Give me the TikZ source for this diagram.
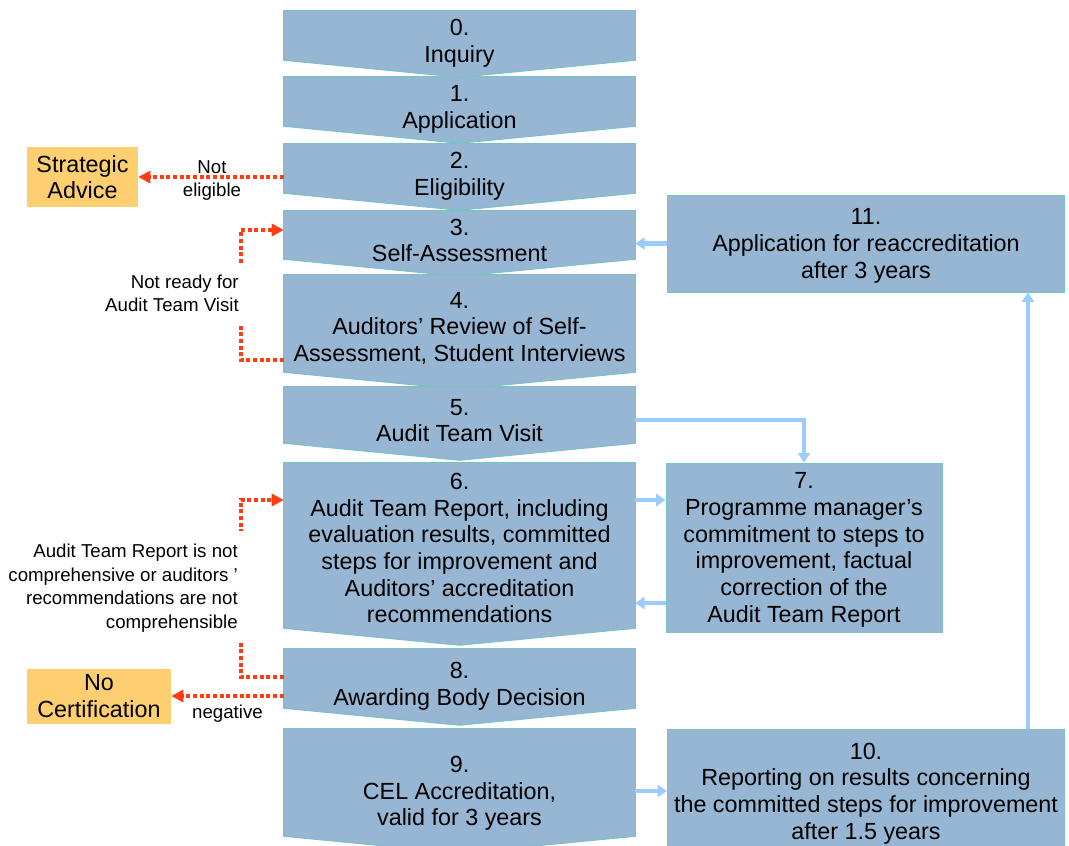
\documentclass[tikz,border=0pt]{standalone}
\usepackage{fontspec}
\setmainfont{Liberation Sans}
\usetikzlibrary{arrows.meta,backgrounds}
\definecolor{acfill}{HTML}{97B6D3}
\definecolor{acedge}{HTML}{79C2C6}
\definecolor{acorange}{HTML}{FDCF70}
\definecolor{acred}{HTML}{FF3D12}
\definecolor{acblue}{HTML}{9ACCFF}
\newcommand\bigtxt{\fontsize{17.5}{20}\selectfont}
\newcommand\smalltxt{\fontsize{14}{17.6}\selectfont}
\tikzset{
  stepbox/.style={minimum width=263.25pt, inner sep=0pt, align=center, font=\bigtxt, text depth=4.5pt},
  chevron/.style={fill=acfill, draw=acedge, line width=0.75pt},
  sidebox/.style={fill=acfill, draw=acedge, line width=0.75pt, inner sep=0pt, align=center, font=\bigtxt, text depth=0pt},
  outbox/.style={fill=acorange, inner sep=0pt, align=center, font=\bigtxt, text depth=0pt},
  note/.style={font=\smalltxt, inner sep=0pt, text depth=0pt},
  nope/.style={draw=acred, line width=3pt, dash pattern=on 3pt off 2pt, -{Triangle[length=9pt,width=9pt]}},
  flow/.style={draw=acblue, line width=3.2pt, -{Triangle[length=7pt,width=9pt]}}
}
\begin{document}
\begin{tikzpicture}[x=0.75pt, y=-0.75pt]
  \useasboundingbox (0,0) rectangle (1069,845);
  \node[stepbox, minimum height=49.5pt] (s0) at (459.5,44) {0.\\Inquiry};
  \node[stepbox, minimum height=49.5pt] (s1) at (459.5,110) {1.\\Application};
  \node[stepbox, minimum height=49.5pt] (s2) at (459.5,177) {2.\\Eligibility};
  \node[stepbox, minimum height=48.75pt] (s3) at (459.5,243.5) {3.\\Self-Assessment};
  \node[stepbox, minimum height=85.5pt, text depth=7.9pt] (s4) at (459.5,332) {4.\\Auditors’ Review of Self-\\Assessment, Student Interviews};
  \node[stepbox, minimum height=54.75pt] (s5) at (459.5,423.5) {5.\\Audit Team Visit};
  \node[stepbox, minimum height=136.5pt, text depth=9pt] (s6) at (459.5,554) {6.\\Audit Team Report, including\\evaluation results, committed\\steps for improvement and\\Auditors’ accreditation\\recommendations};
  \node[stepbox, minimum height=57pt] (s8) at (459.5,687) {8.\\Awarding Body Decision};
  \node[stepbox, minimum height=93pt, text depth=0pt] (s9) at (459.5,791) {9.\\CEL Accreditation,\\valid for 3 years};

  \node[sidebox, minimum width=297.75pt, minimum height=72.75pt] (s11) at (866,243.5) {11.\\Application for reaccreditation\\after 3 years};
  \node[sidebox, minimum width=207pt, minimum height=126.75pt] (s7) at (804,547.5) {7.\\Programme manager’s\\commitment to steps to\\improvement, factual\\correction of the\\Audit Team Report};
  \node[sidebox, minimum width=297.75pt, minimum height=93pt] (s10) at (866,791) {10.\\Reporting on results concerning\\the committed steps for improvement\\after 1.5 years};

  \node[outbox, minimum width=83.25pt, minimum height=45pt] (adv) at (82.5,177) {Strategic\\Advice};
  \node[outbox, minimum width=108pt, minimum height=41.25pt] (nocert) at (99,696) {No\\Certification};

  \begin{scope}[on background layer]
    \fill[white] (0,0) rectangle (1069,845);
    \foreach \n in {s0,s1,s2,s3,s4,s5,s6,s8,s9}
      \path[chevron] (\n.north west) -- (\n.north east) -- ([yshift=12.75pt]\n.south east)
        -- (\n.south) -- ([yshift=12.75pt]\n.south west) -- cycle;
  \end{scope}

  \draw[nope] (s2.west) -- (adv.east);
  \node[note, align=center] (notelig) at (212,178.5) {Not\\eligible};
  \draw[nope] ([yshift=-21pt]s4.west) -- ++(-43,0) |- ([yshift=10.125pt]s3.west);
  \node[note, align=right, fill=white, inner xsep=4.5pt, inner ysep=9pt, anchor=east] (notready) at (245,293.3) {Not ready for\\Audit Team Visit};
  \draw[nope] ([yshift=7.5pt]s8.west) -- ++(-43,0) |- ([yshift=40.5pt]s6.west);
  \node[note, align=right, fill=white, inner xsep=4.5pt, inner ysep=10pt, anchor=east] (notcomp) at (244,586.3) {Audit Team Report is not\\comprehensive or auditors ’\\recommendations are not\\comprehensible};
  \draw[nope] ([yshift=-6.75pt]s8.west) -- (nocert.east);
  \node[note, anchor=base] (negative) at (227.5,718) {negative};

  \draw[flow] (s11.west) -- (s3.east);
  \draw[flow] ([yshift=2.6pt]s5.east) -| (s7.north);
  \draw[flow] ([yshift=40.5pt]s6.east) -- ([yshift=35.625pt]s7.west);
  \draw[flow] ([yshift=-41.625pt]s7.west) -- ([yshift=-36.75pt]s6.east);
  \draw[flow] (s9.east) -- (s10.west);
  \draw[flow] ([xshift=121.5pt]s10.north) -- ([xshift=121.5pt]s11.south);
\end{tikzpicture}
\end{document}
